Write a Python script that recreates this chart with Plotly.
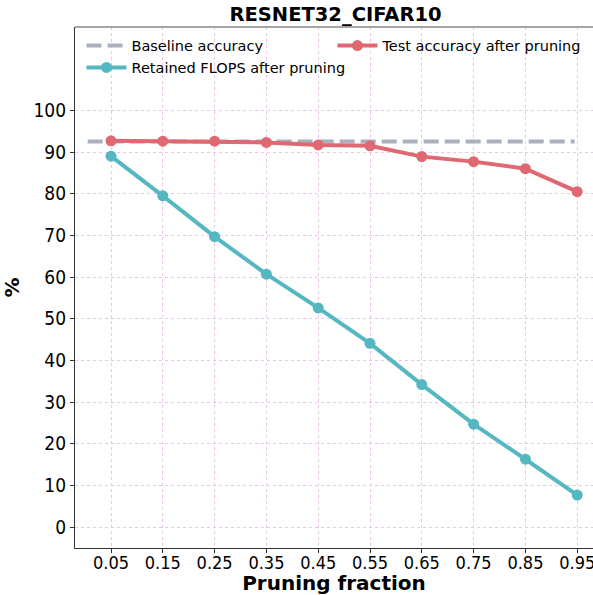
import plotly.graph_objects as go

fractions = [0.05, 0.15, 0.25, 0.35, 0.45, 0.55, 0.65, 0.75, 0.85, 0.95]
tick_labels = ["0.05", "0.15", "0.25", "0.35", "0.45", "0.55", "0.65", "0.75", "0.85", "0.95"]
test_acc = [92.7, 92.6, 92.6, 92.3, 91.7, 91.5, 88.9, 87.7, 86.0, 80.5]
flops = [89.0, 79.5, 69.7, 60.7, 52.6, 44.1, 34.2, 24.7, 16.3, 7.7]
baseline_x = [0.005, 0.945]
baseline_val = 92.5

FONT = "DejaVu Sans"
TICKFONT = "DejaVu Sans Condensed, DejaVu Sans"
fig = go.Figure()
fig.add_trace(go.Scatter(x=baseline_x, y=[baseline_val, baseline_val], mode="lines",
                         name="Baseline accuracy", legend="legend",
                         line=dict(color="#aab0c0", width=4, dash="15px,6px")))
fig.add_trace(go.Scatter(x=fractions, y=test_acc, mode="lines+markers",
                         name="Test accuracy after pruning", legend="legend2",
                         line=dict(color="#e06872", width=4),
                         marker=dict(size=11, color="#e06872")))
fig.add_trace(go.Scatter(x=fractions, y=flops, mode="lines+markers",
                         name="Retained FLOPS after pruning", legend="legend",
                         line=dict(color="#55b7c1", width=4),
                         marker=dict(size=11, color="#55b7c1")))

leg_common = dict(orientation="v", yanchor="top", xanchor="left",
                  font=dict(size=14.5, family=FONT), bgcolor="rgba(255,255,255,0)",
                  itemwidth=40, tracegroupgap=0)
fig.update_layout(
    width=593, height=595,
    margin=dict(l=75, r=0, t=27, b=47),
    paper_bgcolor="white", plot_bgcolor="white",
    font=dict(family=FONT, color="black"),
    title=dict(text="<b>RESNET32_CIFAR10</b>", xref="paper", x=0.503, xanchor="center",
               y=0.977, yanchor="middle", font=dict(size=19.5, family=FONT)),
    legend=dict(x=0.0125, y=0.995, **leg_common),
    legend2=dict(x=0.497, y=0.995, **leg_common),
    showlegend=True,
)
fig.update_xaxes(range=[-0.0195, 0.9805], tickvals=fractions, ticktext=tick_labels,
                 automargin=False,
                 showgrid=True, gridcolor="#e9c6e9", griddash="3px,3px", gridwidth=1,
                 showline=True, linecolor="#333", linewidth=1.2, mirror=False,
                 ticks="outside", ticklen=4, tickcolor="#333",
                 tickfont=dict(size=18, family=TICKFONT), ticklabelstandoff=-6,
                 ticklabeloverflow="allow",
                 title=dict(text="<b>Pruning fraction</b>", font=dict(size=20, family=FONT), standoff=6),
                 zeroline=False)
fig.update_yaxes(range=[-5, 120], tickvals=list(range(0, 101, 10)),
                 automargin=False,
                 showgrid=True, gridcolor="#e9c6e9", griddash="3px,3px", gridwidth=1,
                 showline=True, linecolor="#333", linewidth=1.2,
                 ticks="outside", ticklen=4, tickcolor="#333",
                 tickfont=dict(size=19, family=TICKFONT),
                 title=dict(text="<b>%</b>", font=dict(size=20, family=FONT), standoff=10),
                 zeroline=False)
# top spine
fig.add_shape(type="line", xref="paper", yref="paper", x0=0, x1=1, y0=1, y1=1,
              line=dict(color="#888", width=1.5))
fig.write_html("out.html")
